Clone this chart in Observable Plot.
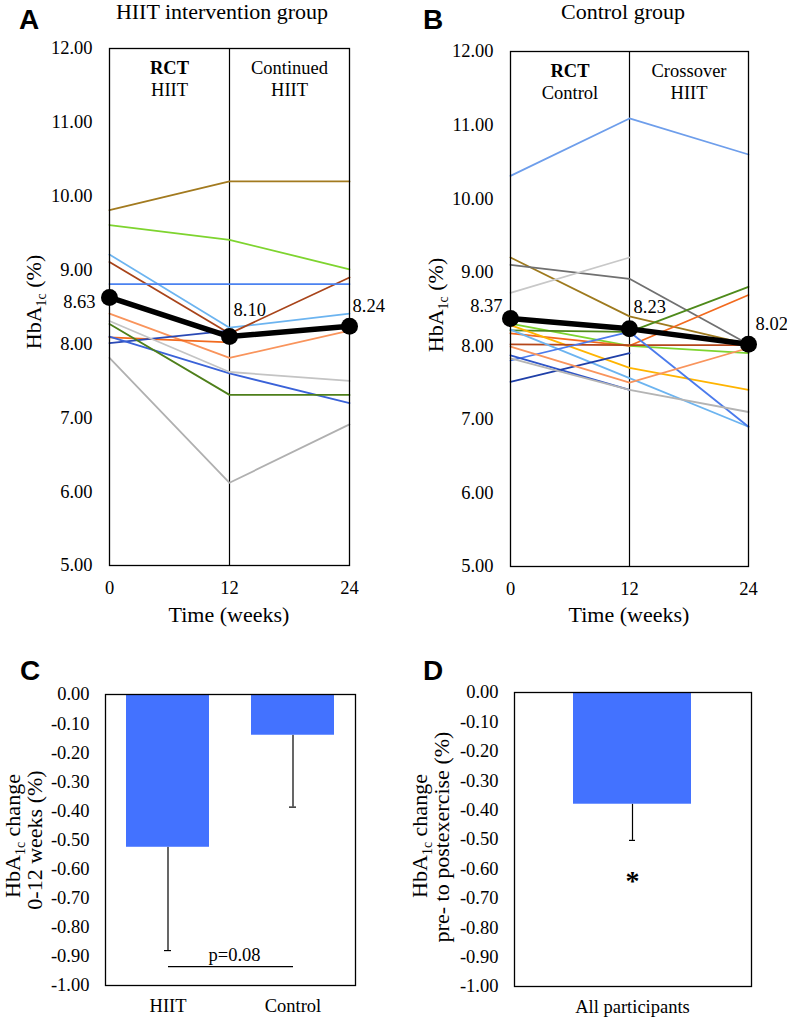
<!DOCTYPE html>
<html><head><meta charset="utf-8">
<script src="https://cdn.jsdelivr.net/npm/d3@7"></script>
<script src="https://cdn.jsdelivr.net/npm/@observablehq/plot@0.6"></script>
<style>
body{margin:0;background:#fff;}
#wrap{position:relative;width:787px;height:1018px;overflow:hidden;font-family:"Liberation Serif","Times New Roman",serif;}
#wrap > svg{position:absolute;}
#wrap svg text{font-family:"Liberation Serif","Times New Roman",serif;}
#wrap svg text.letter{font-family:"Liberation Sans",Arial,sans-serif;}
</style></head><body><div id="wrap"></div>
<script>
// ---------- data ----------
const weeks = [0, 12, 24];
const weekTicks = [0, 12, 24];
const hba1cTicks = [5, 6, 7, 8, 9, 10, 11, 12];
const changeTicks = [0, -0.1, -0.2, -0.3, -0.4, -0.5, -0.6, -0.7, -0.8, -0.9, -1];

// Panel A: HIIT intervention group (individual HbA1c, %)
const hiitColors = ["#A27A1F","#7ED42F","#6CB4F0","#A8441A","#4B82F0","#F9945C","#F26A1E","#2A49B5","#3A62D8","#C4C4C4","#4E7F1A","#B0B0B0"];
const hiitWeek0  = [9.81, 9.61, 9.21, 9.11, 8.81, 8.41, 8.09, 8.01, 8.10, 8.31, 8.27, 7.81];
const hiitWeek12 = [10.20, 9.41, 8.22, 8.14, 8.81, 7.81, 8.02, 8.18, 7.60, 7.62, 7.31, 6.12];
const hiitWeek24 = [10.20, 9.01, 8.41, 8.90, 8.81, 8.18, null, null, 7.20, 7.50, 7.31, 6.91];
const hiitMean = [8.63, 8.10, 8.24];
const hiitPhaseWeeks = [6, 18];
const hiitPhaseTop = ["RCT", "Continued"];
const hiitPhaseBottom = ["HIIT", "HIIT"];

// Panel B: Control group
const controlColors = ["#6E9EEB","#9E7A1E","#707070","#C8C8C8","#7ED42F","#4E8A1A","#F26A1E","#FFB400","#B4461A","#6CB4F0","#4B7BEC","#2F55C8","#1F3FA8","#F9945C","#B4B4B4"];
const controlWeek0  = [10.31, 9.20, 9.10, 8.72, 8.30, 8.21, 8.17, 8.28, 8.02, 8.22, 7.80, 7.87, 7.51, 7.99, 7.83];
const controlWeek12 = [11.09, 8.40, 8.91, 9.20, 8.00, 8.19, 8.00, 7.70, 8.01, 7.56, 8.19, 7.40, 7.90, 7.50, 7.40];
const controlWeek24 = [10.60, 8.02, 8.02, null, 7.90, 8.80, 8.69, 7.40, 8.01, 6.90, 6.90, null, null, 7.97, 7.10];
const controlMean = [8.37, 8.23, 8.02];
const controlPhaseWeeks = [6, 18];
const controlPhaseTop = ["RCT", "Crossover"];
const controlPhaseBottom = ["Control", "HIIT"];

// Panel C: change 0-12 weeks
const changeGroups = ["HIIT", "Control"];
const changeMeans = [-0.525, -0.14];
const changeErrors = [0.355, 0.247];
const pValueText = "p=0.08";
const pLineValue = -0.935;

// Panel D: pre- to postexercise change
const allGroups = ["All participants"];
const allMeans = [-0.38];
const allErrors = [0.123];
const sigText = "*";
const sigValue = -0.62;

const barColor = "#4372FF";
const SERIF = "'Liberation Serif','Times New Roman',serif";
const SANS = "'Liberation Sans',Arial,sans-serif";
const PLOT_STYLE = "font-family:'Liberation Serif','Times New Roman',serif;font-size:18.5px;color:black;background:transparent;overflow:visible;";

// ---------- helpers ----------
const wrap = document.getElementById("wrap");
function place(svg, left, top) {
  svg.style.left = left + "px";
  svg.style.top = top + "px";
  svg.style.position = "absolute";
  // make sure every text (axes included) uses the serif face at the chart's size
  d3.select(svg).selectAll("g[aria-label$='tick label']")
    .attr("font-size", "18.5px").style("font-size", "18.5px").attr("font-family", SERIF);
  d3.select(svg).selectAll("text").style("font-family", SERIF);
  wrap.appendChild(svg);
}

function linePanel(o) {
  const rows = [];
  o.colors.forEach((c, i) => {
    [o.w0, o.w12, o.w24].forEach((arr, j) => {
      if (arr[i] != null) rows.push({id: i, week: weeks[j], value: arr[i], color: c});
    });
  });
  const meanRows = o.mean.map((v, j) => ({week: weeks[j], value: v}));
  const phases = o.phaseWeeks.map((w, i) => ({week: w, top: o.phaseTop[i], bottom: o.phaseBottom[i]}));
  const lab = o.labels;
  const valueText = (i) => Plot.text([meanRows[i]], {
    x: "week", y: "value", text: d => d.value.toFixed(2),
    textAnchor: lab[i].anchor, dx: lab[i].dx, dy: lab[i].dy, fontSize: 18.5
  });
  return Plot.plot({
    width: o.width, height: o.height,
    marginLeft: o.ml, marginRight: o.mr, marginTop: o.mt, marginBottom: o.mb,
    style: PLOT_STYLE,
    color: {type: "identity"},
    x: {domain: [0, 24], ticks: weekTicks, tickSize: 0, tickPadding: 15, label: null, tickFormat: d => String(d)},
    y: {domain: [5, 12], ticks: hba1cTicks, tickSize: 0, tickPadding: 17, label: null, tickFormat: d => d.toFixed(2)},
    marks: [
      Plot.ruleX([12], {stroke: "black", strokeWidth: 1.2}),
      Plot.line(rows, {x: "week", y: "value", z: "id", stroke: "color", strokeWidth: 1.8}),
      Plot.line(meanRows, {x: "week", y: "value", stroke: "black", strokeWidth: 5.5}),
      Plot.dot(meanRows, {x: "week", y: "value", r: 8.5, fill: "black"}),
      valueText(0), valueText(1), valueText(2),
      Plot.text(phases.slice(0, 1), {x: "week", text: "top", frameAnchor: "top", lineAnchor: "top", dy: 12, fontWeight: "bold", fontSize: 18.5}),
      Plot.text(phases.slice(1), {x: "week", text: "top", frameAnchor: "top", lineAnchor: "top", dy: 12, fontSize: 18.5}),
      Plot.text(phases, {x: "week", text: "bottom", frameAnchor: "top", lineAnchor: "top", dy: 34, fontSize: 18.5}),
      Plot.frame({stroke: "black", strokeWidth: 1.3})
    ]
  });
}

function barPanel(o) {
  const rows = o.groups.map((g, i) => ({group: g, mean: o.means[i], low: o.means[i] - o.errors[i]}));
  const marks = [
    Plot.ruleX(rows, {x: "group", y1: "mean", y2: "low", stroke: "black", strokeWidth: 1.2}),
    Plot.tickY(rows, {x: "group", y: "low", stroke: "black", strokeWidth: 1.2, insetLeft: o.capInset, insetRight: o.capInset}),
    Plot.barY(rows, {x: "group", y: "mean", fill: barColor}),
    ...o.extra,
    Plot.frame({stroke: "black", strokeWidth: 1.3})
  ];
  return Plot.plot({
    width: o.width, height: o.height,
    marginLeft: o.ml, marginRight: o.mr, marginTop: o.mt, marginBottom: o.mb,
    style: PLOT_STYLE,
    x: {domain: o.groups, paddingInner: o.pi, paddingOuter: o.po, tickSize: 0, tickPadding: 13, label: null},
    y: {domain: [-1, 0], ticks: changeTicks, tickSize: 0, tickPadding: 16, label: null, tickFormat: d => d.toFixed(2)},
    marks
  });
}

// ---------- panels ----------
const chartA = linePanel({
  w0: hiitWeek0, w12: hiitWeek12, w24: hiitWeek24, colors: hiitColors, mean: hiitMean,
  phaseWeeks: hiitPhaseWeeks, phaseTop: hiitPhaseTop, phaseBottom: hiitPhaseBottom,
  width: 393, height: 640, ml: 109, mr: 44, mt: 48, mb: 75,
  labels: [{anchor: "end", dx: -14, dy: 5}, {anchor: "start", dx: 4, dy: -26}, {anchor: "start", dx: 3, dy: -20}]
});
place(chartA, 0, 0);

const chartB = linePanel({
  w0: controlWeek0, w12: controlWeek12, w24: controlWeek24, colors: controlColors, mean: controlMean,
  phaseWeeks: controlPhaseWeeks, phaseTop: controlPhaseTop, phaseBottom: controlPhaseBottom,
  width: 394, height: 640, ml: 117, mr: 39, mt: 51, mb: 74,
  labels: [{anchor: "end", dx: -8, dy: -12}, {anchor: "start", dx: 4, dy: -22}, {anchor: "start", dx: 7, dy: -20}]
});
place(chartB, 393, 0);

const chartC = barPanel({
  groups: changeGroups, means: changeMeans, errors: changeErrors,
  width: 393, height: 378, ml: 105, mr: 38, mt: 54, mb: 33, pi: 0.336, po: 0.168, capInset: 38,
  extra: [
    Plot.link([{a: changeGroups[0], b: changeGroups[1], y: pLineValue}], {x1: "a", x2: "b", y1: "y", y2: "y", stroke: "black", strokeWidth: 1.3}),
    Plot.text([pValueText], {y: () => pLineValue, text: d => d, frameAnchor: "middle", lineAnchor: "bottom", dx: 4, dy: -6, fontSize: 18.5})
  ]
});
place(chartC, 0, 640);

const chartD = barPanel({
  groups: allGroups, means: allMeans, errors: allErrors,
  width: 394, height: 378, ml: 121, mr: 36, mt: 52, mb: 32, pi: 0.332, po: 0.332, capInset: 56,
  extra: [
    Plot.text([sigText], {x: () => allGroups[0], y: () => sigValue, text: d => d, fontSize: 28, fontWeight: "bold", dy: 6})
  ]
});
place(chartD, 393, 640);

// ---------- overlay text: titles, panel letters, axis titles ----------
const ov = d3.create("svg").attr("width", 787).attr("height", 1018)
  .style("position", "absolute").style("left", "0px").style("top", "0px").style("pointer-events", "none")
  .style("font-family", SERIF).style("overflow", "visible");

[["A", 19, 29], ["B", 423, 29], ["C", 20, 680], ["D", 423, 680]].forEach(([t, x, y]) => {
  ov.append("text").attr("class", "letter").attr("x", x).attr("y", y).attr("font-weight", "bold")
    .attr("font-size", 28).style("font-family", SANS).text(t);
});

function plainText(x, y, s, size) {
  ov.append("text").attr("x", x).attr("y", y).attr("text-anchor", "middle")
    .attr("font-size", size).style("font-family", SERIF).text(s);
}
plainText(222, 19, "HIIT intervention group", 22);
plainText(623, 19, "Control group", 22);
plainText(229, 622, "Time (weeks)", 22);
plainText(629, 622, "Time (weeks)", 22);

function hbTitle(x, y, rest) {
  const t = ov.append("text").attr("transform", `translate(${x},${y}) rotate(-90)`)
    .attr("text-anchor", "middle").attr("font-size", 22).style("font-family", SERIF);
  t.append("tspan").text("HbA");
  t.append("tspan").attr("font-size", 14).attr("dy", 5).text("1c");
  t.append("tspan").attr("dy", -5).text(rest);
}
function rotText(x, y, s) {
  ov.append("text").attr("transform", `translate(${x},${y}) rotate(-90)`)
    .attr("text-anchor", "middle").attr("font-size", 22).style("font-family", SERIF).text(s);
}
hbTitle(41, 302, " (%)");
hbTitle(443, 305, " (%)");
hbTitle(20, 836, " change");
rotText(42, 840, "0-12 weeks (%)");
hbTitle(427, 836, " change");
rotText(449, 837, "pre- to postexercise (%)");

wrap.appendChild(ov.node());
</script></body></html>
